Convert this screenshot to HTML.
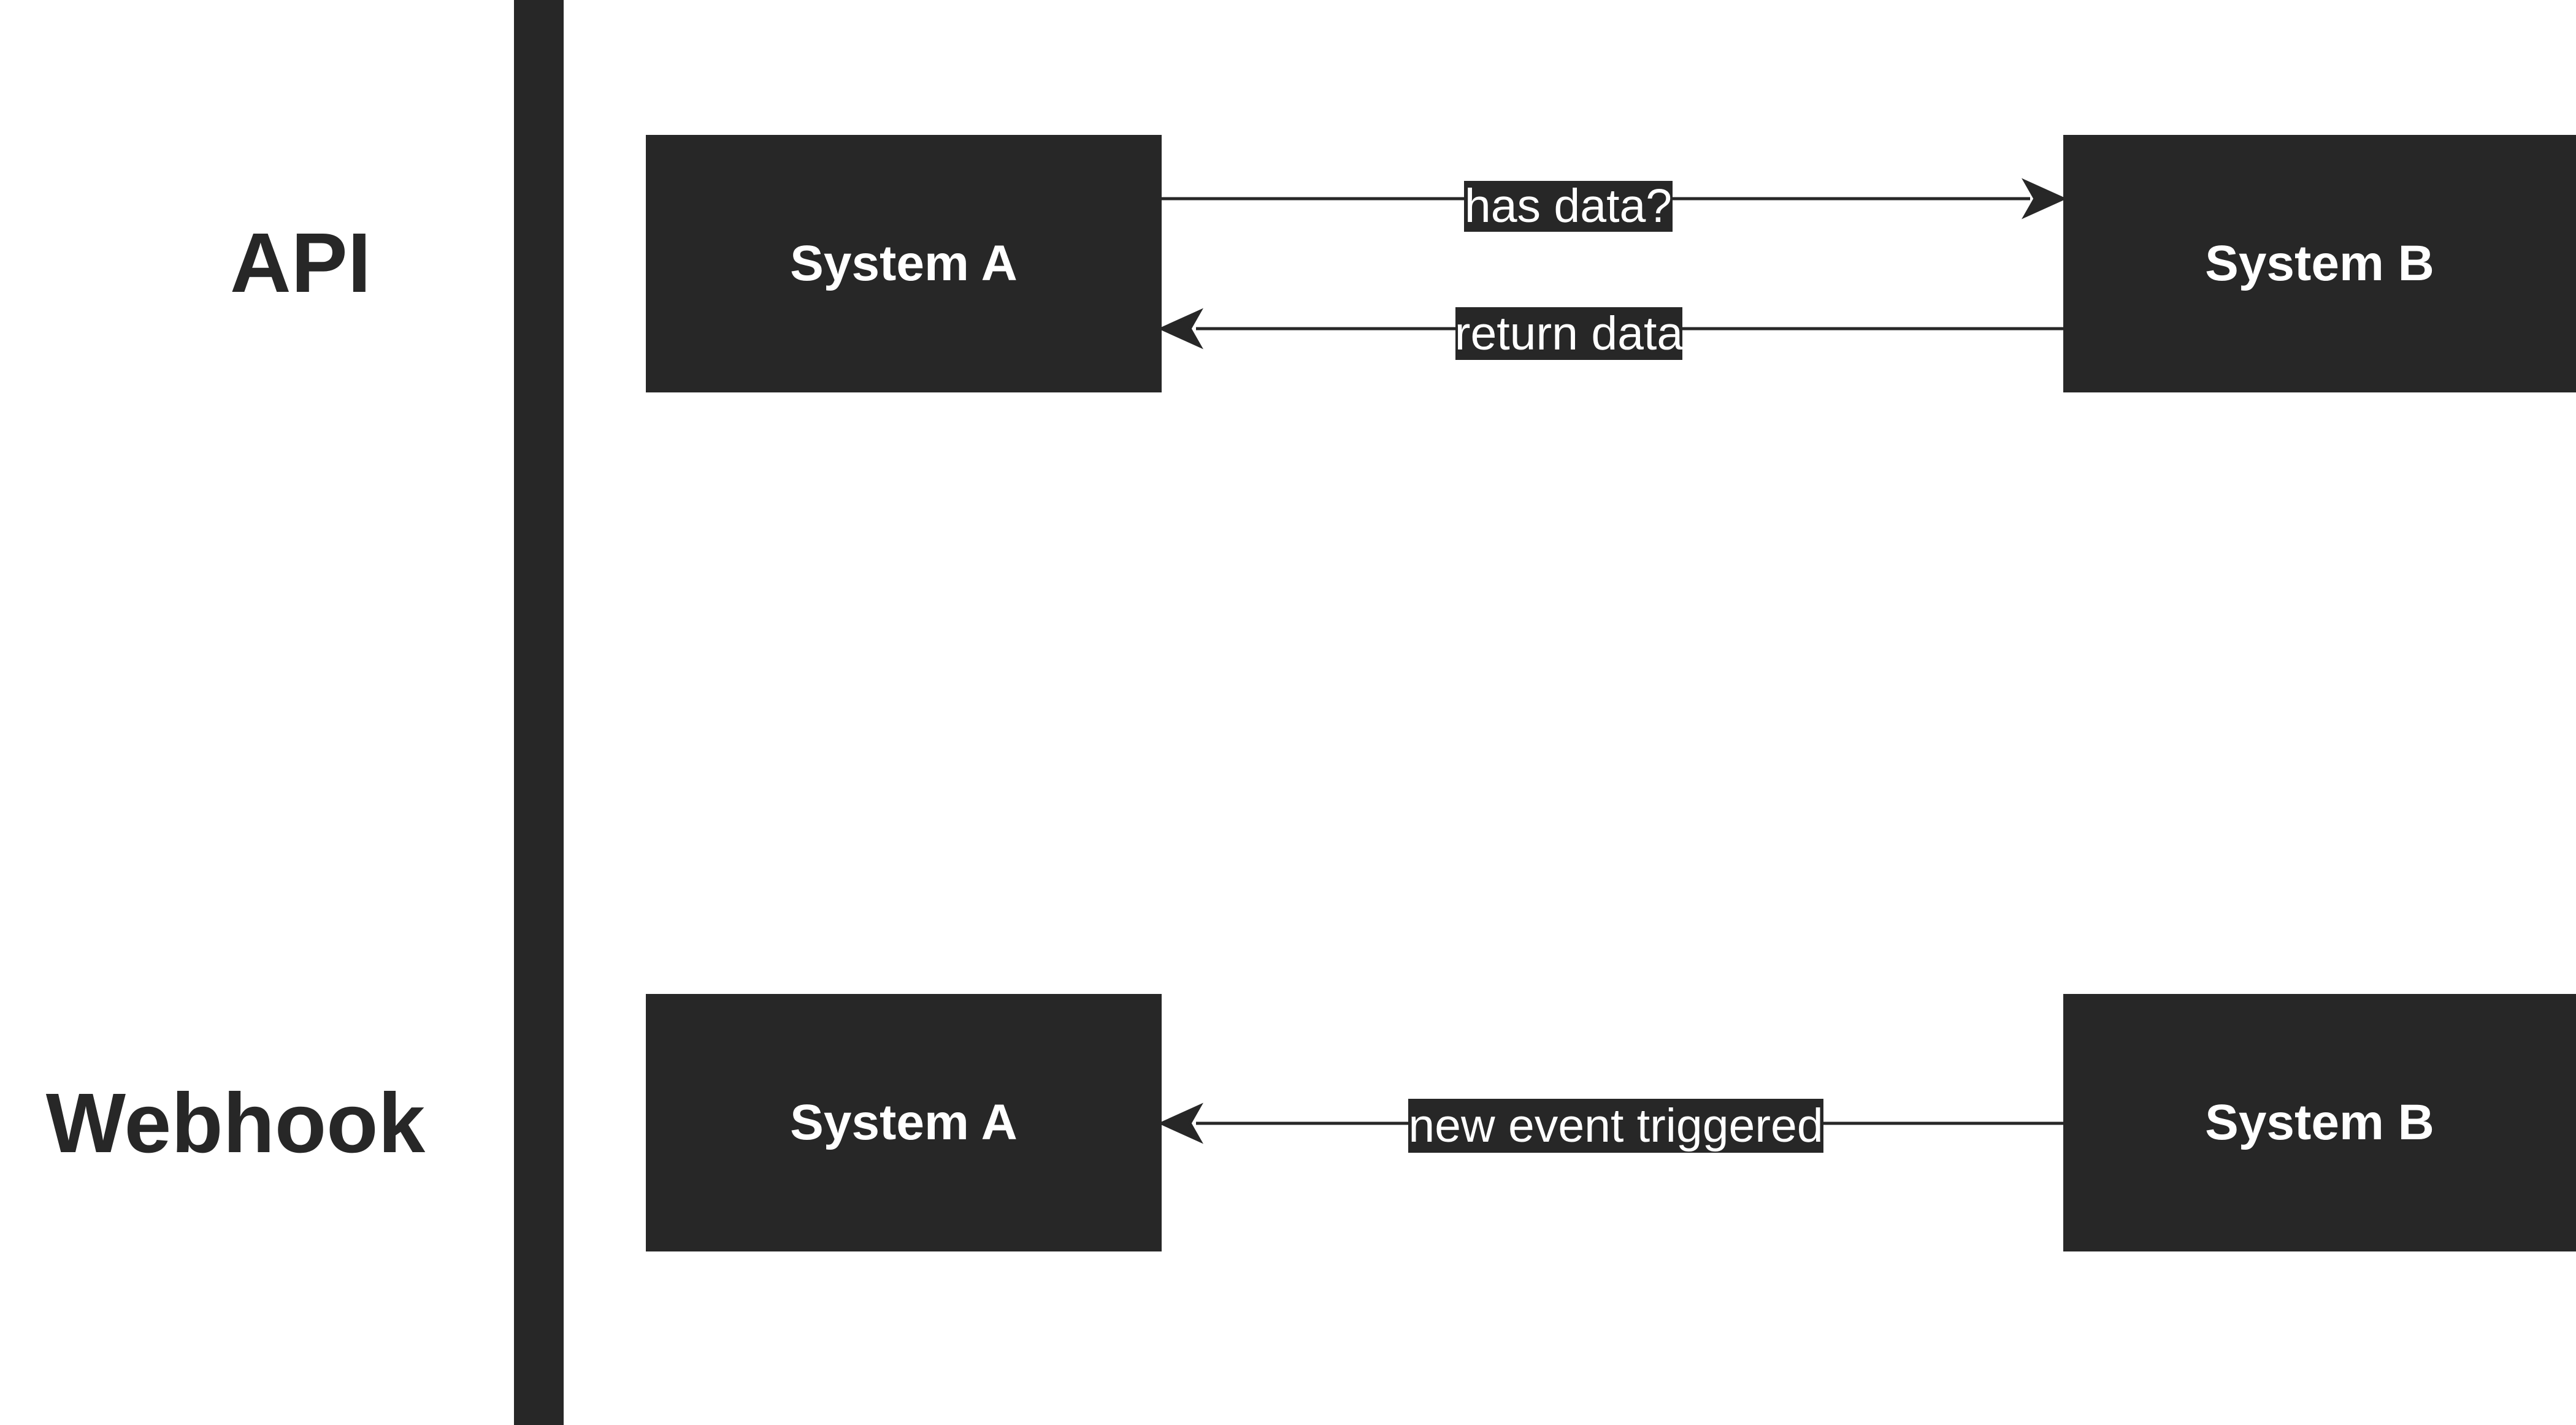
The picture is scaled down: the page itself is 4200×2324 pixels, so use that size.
<!DOCTYPE html>
<html><head><meta charset="utf-8"><style>
html,body{margin:0;padding:0;background:#fff;}
body{width:4200px;height:2324px;position:relative;overflow:hidden;font-family:"Liberation Sans",Arial,sans-serif;}
.box{position:absolute;background:#272727;color:#fff;font-weight:bold;font-size:82px;display:flex;align-items:center;justify-content:center;}
.lbl{position:absolute;background:#272727;color:#fff;font-size:77px;line-height:1;display:flex;align-items:center;justify-content:center;white-space:nowrap;overflow:visible;}
.h{position:absolute;font-weight:bold;color:#272727;font-size:138px;line-height:1;transform:translate(-50%,-50%);white-space:nowrap;}
</style></head><body>
<div style="position:absolute;left:838px;top:0;width:81px;height:2324px;background:#272727"></div>
<div class="h" style="left:490px;top:429px">API</div>
<div class="h" style="left:384px;top:1832px">Webhook</div>
<svg width="4200" height="2324" style="position:absolute;left:0;top:0">
<g stroke="#272727" stroke-width="5" fill="#272727">
<line x1="1893" y1="324" x2="3310" y2="324"/>
<path d="M3364 324 L3302 296 L3318 324 L3302 352 Z"/>
<line x1="1950" y1="536" x2="3364" y2="536"/>
<path d="M1894 536 L1956 508 L1940 536 L1956 564 Z"/>
<line x1="1950" y1="1832" x2="3364" y2="1832"/>
<path d="M1894 1832 L1956 1804 L1940 1832 L1956 1860 Z"/>
</g></svg>
<div class="box" style="left:1053px;top:220px;width:841px;height:420px">System A</div>
<div class="box" style="left:3364px;top:220px;width:836px;height:420px">System B</div>
<div class="box" style="left:1053px;top:1621px;width:841px;height:420px">System A</div>
<div class="box" style="left:3364px;top:1621px;width:836px;height:420px">System B</div>
<div class="lbl" style="left:2387px;top:295px;width:340px;height:83px">has data?</div>
<div class="lbl" style="left:2373px;top:501px;width:370px;height:86px">return data</div>
<div class="lbl" style="left:2296px;top:1792px;width:677px;height:88px">new event triggered</div>
</body></html>
